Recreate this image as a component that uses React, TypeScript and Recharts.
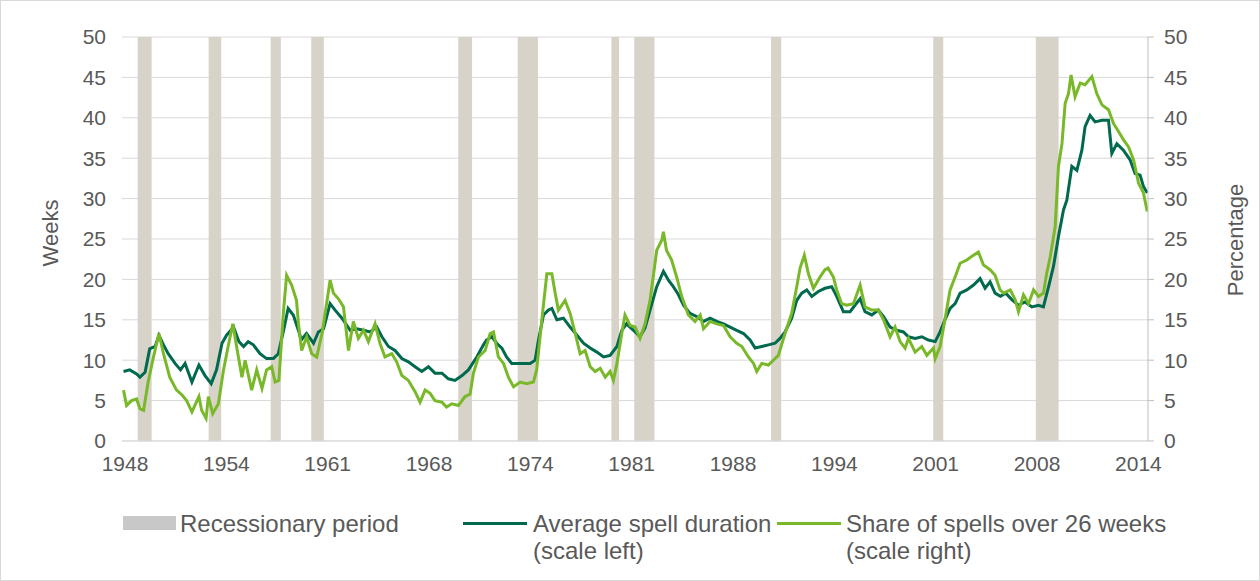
import {
  ComposedChart,
  Line,
  XAxis,
  YAxis,
  CartesianGrid,
  ReferenceArea,
} from "recharts";

// Average spell duration, weeks (left scale)
const durationYears = [
  1947.9, 1948.31, 1948.76, 1948.98, 1949.32, 1949.62, 1949.98, 1950.23, 1950.53, 1950.84,
  1951.29, 1951.65, 1951.95, 1952.4, 1952.86, 1953.26, 1953.67, 1954.02, 1954.38, 1954.68,
  1955.14, 1955.49, 1955.8, 1956.1, 1956.44, 1956.88, 1957.31, 1957.76, 1958.08, 1958.43,
  1958.73, 1959.07, 1959.44, 1959.59, 1959.94, 1960.4, 1960.72, 1961.06, 1961.49, 1961.82,
  1962.27, 1962.81, 1963.24, 1963.69, 1964.12, 1964.56, 1964.9, 1965.33, 1965.76, 1966.21,
  1966.64, 1967.08, 1967.52, 1967.96, 1968.39, 1968.85, 1969.27, 1969.71, 1970.17, 1970.59,
  1971.14, 1971.58, 1971.78, 1972.13, 1972.45, 1972.79, 1973.1, 1973.44, 1973.77, 1974.21,
  1974.65, 1974.98, 1975.2, 1975.53, 1975.85, 1976.08, 1976.41, 1976.84, 1977.28, 1977.73,
  1978.16, 1978.6, 1979.04, 1979.48, 1979.91, 1980.36, 1980.68, 1980.99, 1981.45, 1981.88,
  1982.21, 1982.54, 1982.98, 1983.42, 1983.75, 1984.07, 1984.41, 1984.74, 1985.17, 1985.61,
  1986.06, 1986.49, 1986.93, 1987.37, 1987.81, 1988.24, 1988.69, 1989.12, 1989.45, 1989.89,
  1990.33, 1990.76, 1991.09, 1991.42, 1991.86, 1992.19, 1992.52, 1992.85, 1993.18, 1993.61,
  1994.05, 1994.49, 1994.82, 1995.26, 1995.7, 1996.02, 1996.36, 1996.68, 1997.13, 1997.56,
  1997.9, 1998.33, 1998.77, 1999.21, 1999.54, 1999.98, 2000.42, 2000.85, 2001.3, 2001.62,
  2001.94, 2002.28, 2002.61, 2002.94, 2003.38, 2003.82, 2004.25, 2004.58, 2004.91, 2005.24,
  2005.59, 2005.94, 2006.34, 2006.78, 2007.21, 2007.66, 2008.1, 2008.42, 2008.76, 2009.08,
  2009.41, 2009.74, 2009.96, 2010.29, 2010.62, 2010.95, 2011.16, 2011.49, 2011.82, 2012.27,
  2012.7, 2012.92, 2013.25, 2013.68, 2014.12, 2014.45, 2014.78, 2015.0, 2015.25,
];
const durationWeeks = [
  8.6, 8.8, 8.3, 7.9, 8.5, 11.4, 11.7, 13.1, 11.9, 10.8,
  9.6, 8.8, 9.6, 7.3, 9.4, 8.1, 7.1, 8.8, 12.1, 13.1,
  14.1, 12.3, 11.7, 12.3, 11.9, 10.8, 10.2, 10.2, 10.8, 13.7,
  16.4, 15.6, 13.5, 12.5, 13.3, 12.1, 13.5, 13.9, 17.0, 16.2,
  15.2, 13.7, 13.9, 13.7, 13.5, 14.1, 12.9, 11.7, 11.2, 10.2,
  9.8, 9.2, 8.6, 9.2, 8.4, 8.4, 7.7, 7.5, 8.1, 8.8,
  10.4, 11.9, 12.5, 12.9, 12.1, 11.5, 10.4, 9.6, 9.6, 9.6,
  9.6, 10.0, 12.5, 15.6, 16.2, 16.4, 15.0, 15.2, 14.1, 13.1,
  12.1, 11.5, 11.0, 10.4, 10.6, 11.7, 13.7, 14.5, 13.7, 12.9,
  14.0, 16.2, 19.1, 21.0, 19.9, 19.1, 18.1, 16.8, 15.8, 15.4,
  14.8, 15.2, 14.8, 14.5, 14.1, 13.7, 13.3, 12.5, 11.5, 11.7,
  11.9, 12.1, 12.7, 13.5, 15.2, 17.4, 18.3, 18.7, 17.9, 18.5,
  18.9, 19.1, 17.9, 16.0, 16.0, 16.8, 17.6, 16.0, 15.6, 16.2,
  15.4, 14.1, 13.7, 13.5, 12.9, 12.7, 12.9, 12.5, 12.3, 13.5,
  15.0, 16.4, 17.0, 18.3, 18.7, 19.3, 20.1, 18.9, 19.7, 18.3,
  17.9, 18.3, 17.5, 16.8, 17.2, 16.6, 16.8, 16.6, 19.1, 21.6,
  25.3, 28.6, 29.8, 34.0, 33.5, 36.0, 38.9, 40.3, 39.5, 39.7,
  39.7, 35.6, 36.8, 36.0, 34.8, 33.1, 32.9, 31.5, 30.7,
];

// Share of spells over 26 weeks, % (right scale)
const shareYears = [
  1947.9, 1948.1, 1948.43, 1948.76, 1948.98, 1949.22, 1949.52, 1949.87, 1950.23, 1950.53,
  1950.94, 1951.39, 1951.75, 1952.05, 1952.4, 1952.86, 1953.04, 1953.33, 1953.48, 1953.77,
  1954.14, 1954.48, 1954.78, 1955.09, 1955.34, 1955.69, 1955.9, 1956.33, 1956.66, 1957.01,
  1957.31, 1957.65, 1957.87, 1958.12, 1958.43, 1958.63, 1958.96, 1959.28, 1959.41, 1959.62,
  1959.95, 1960.28, 1960.61, 1960.96, 1961.26, 1961.49, 1961.71, 1962.04, 1962.37, 1962.7,
  1963.02, 1963.35, 1963.69, 1964.01, 1964.45, 1964.77, 1965.1, 1965.55, 1965.87, 1966.21,
  1966.64, 1967.08, 1967.41, 1967.74, 1968.07, 1968.39, 1968.85, 1969.15, 1969.5, 1969.93,
  1970.37, 1970.7, 1970.92, 1971.25, 1971.69, 1972.02, 1972.24, 1972.56, 1972.9, 1973.22,
  1973.56, 1973.99, 1974.42, 1974.87, 1975.08, 1975.42, 1975.75, 1976.08, 1976.3, 1976.51,
  1976.95, 1977.28, 1977.62, 1977.94, 1978.27, 1978.6, 1978.93, 1979.26, 1979.59, 1979.91,
  1980.13, 1980.36, 1980.68, 1980.89, 1981.23, 1981.56, 1981.88, 1982.21, 1982.54, 1982.98,
  1983.32, 1983.42, 1983.62, 1983.96, 1984.29, 1984.62, 1985.06, 1985.5, 1985.84, 1986.06,
  1986.49, 1986.93, 1987.37, 1987.81, 1988.24, 1988.58, 1989.01, 1989.35, 1989.56, 1989.89,
  1990.33, 1990.65, 1990.98, 1991.42, 1991.86, 1992.19, 1992.41, 1992.69, 1992.96, 1993.29,
  1993.72, 1994.05, 1994.25, 1994.6, 1994.82, 1995.15, 1995.48, 1995.92, 1996.36, 1996.68,
  1997.13, 1997.56, 1997.9, 1998.33, 1998.66, 1998.99, 1999.32, 1999.54, 1999.98, 2000.42,
  2000.75, 2001.19, 2001.3, 2001.62, 2001.94, 2002.28, 2002.61, 2002.94, 2003.38, 2003.82,
  2004.14, 2004.47, 2004.91, 2005.24, 2005.57, 2005.79, 2006.24, 2006.56, 2006.78, 2007.11,
  2007.44, 2007.77, 2008.1, 2008.42, 2008.64, 2008.87, 2009.19, 2009.41, 2009.64, 2009.85,
  2010.07, 2010.24, 2010.5, 2010.84, 2011.16, 2011.61, 2011.93, 2012.27, 2012.7, 2013.03,
  2013.36, 2013.68, 2014.02, 2014.35, 2014.68, 2015.0, 2015.25,
];
const sharePct = [
  6.3, 4.4, 5.0, 5.2, 4.0, 3.8, 7.3, 10.4, 13.3, 10.8,
  7.9, 6.3, 5.7, 5.0, 3.6, 5.5, 3.8, 2.8, 5.5, 3.4,
  4.6, 8.8, 11.7, 14.5, 11.7, 7.9, 10.0, 6.3, 8.8, 6.5,
  8.8, 9.2, 7.3, 7.5, 16.2, 20.5, 19.3, 17.4, 14.5, 11.2,
  12.9, 10.8, 10.4, 13.3, 17.0, 19.9, 18.3, 17.6, 16.6, 11.2,
  14.8, 12.7, 13.7, 12.3, 14.5, 12.1, 10.4, 10.8, 9.8, 8.1,
  7.5, 6.1, 4.8, 6.3, 5.9, 5.0, 4.8, 4.2, 4.6, 4.4,
  5.5, 5.8, 8.4, 10.4, 11.2, 13.3, 13.5, 10.4, 9.6, 7.9,
  6.7, 7.3, 7.1, 7.3, 8.8, 15.0, 20.7, 20.7, 18.3, 16.2,
  17.4, 15.8, 13.3, 10.8, 11.2, 9.2, 8.6, 9.0, 7.9, 8.6,
  7.5, 9.6, 13.3, 15.6, 14.3, 14.1, 12.7, 14.5, 17.4, 23.6,
  24.9, 25.9, 23.6, 22.4, 20.3, 17.9, 15.6, 14.8, 15.6, 13.9,
  14.8, 14.5, 14.3, 12.9, 12.1, 11.7, 10.4, 9.6, 8.6, 9.6,
  9.4, 10.0, 10.6, 13.3, 15.8, 19.1, 21.4, 23.0, 20.7, 18.9,
  20.3, 21.2, 21.4, 20.3, 18.7, 17.0, 16.8, 17.0, 19.3, 16.6,
  16.2, 16.2, 15.0, 12.9, 14.1, 12.3, 11.5, 12.7, 11.0, 11.7,
  10.6, 11.5, 10.2, 11.7, 15.0, 18.7, 20.3, 22.0, 22.4, 23.0,
  23.4, 21.8, 21.2, 20.5, 18.7, 18.3, 18.7, 17.5, 16.0, 18.1,
  17.0, 18.7, 17.9, 18.3, 20.8, 22.8, 26.5, 34.0, 36.8, 41.8,
  43.0, 45.3, 42.6, 44.3, 44.1, 45.1, 43.0, 41.6, 41.0, 39.3,
  38.3, 37.3, 36.4, 34.8, 31.9, 30.7, 28.4,
];

// NBER recessions (decimal years)
const recessionStart = [1948.83, 1953.5, 1957.58, 1960.25, 1969.92, 1973.83, 1980.0, 1981.5, 1990.5, 2001.17, 2007.92];
const recessionEnd = [1949.75, 1954.33, 1958.25, 1961.08, 1970.83, 1975.17, 1980.5, 1982.83, 1991.17, 2001.83, 2009.42];

const xTicks = [1948, 1954.67, 1961.33, 1968, 1974.67, 1981.33, 1988, 1994.67, 2001.33, 2008, 2014.67];
const xTickLabels = ["1948", "1954", "1961", "1968", "1974", "1981", "1988", "1994", "2001", "2008", "2014"];
const yTicks = [0, 5, 10, 15, 20, 25, 30, 35, 40, 45, 50];

const durationData = durationYears.map((year, i) => ({ year, weeks: durationWeeks[i] }));
const shareData = shareYears.map((year, i) => ({ year, pct: sharePct[i] }));

const TEXT = "#595959";
const DARK = "#00694e";
const LIGHT = "#79b829";
const FONT = '"Liberation Sans", Arial, sans-serif';

const tickStyle = { fill: TEXT, fontSize: 21, fontFamily: FONT };

const App = () => {
  return (
    <div
      style={{
        position: "absolute",
        left: 0,
        top: 0,
        width: 1260,
        height: 581,
        boxSizing: "border-box",
        border: "1px solid #d9d9d9",
        background: "#fff",
        fontFamily: FONT,
        color: TEXT,
      }}
    >
      <ComposedChart
        width={1258}
        height={579}
        margin={{ top: 36, right: 51, bottom: 99, left: 21 }}
      >
        <CartesianGrid yAxisId="left" vertical={false} stroke="#d9d9d9" />
        <XAxis
          type="number"
          dataKey="year"
          domain={[1947.8, 2015.3]}
          allowDataOverflow
          ticks={xTicks}
          interval={0}
          tickFormatter={(v) => xTickLabels[xTicks.indexOf(v)]}
          axisLine={{ stroke: "#d9d9d9" }}
          tickLine={false}
          tick={tickStyle}
          tickMargin={9}
          height={40}
        />
        <YAxis
          yAxisId="left"
          domain={[0, 50]}
          ticks={yTicks}
          interval={0}
          axisLine={false}
          tickLine={false}
          tick={tickStyle}
          tickMargin={10}
          width={100}
        />
        <YAxis
          yAxisId="right"
          orientation="right"
          domain={[0, 50]}
          ticks={yTicks}
          interval={0}
          axisLine={{ stroke: "#bfbfbf" }}
          tickLine={{ stroke: "#bfbfbf" }}
          tickSize={6}
          tick={tickStyle}
          tickMargin={10}
          width={60}
        />
        {recessionStart.map((start, i) => (
          <ReferenceArea
            key={`rec-${i}`}
            yAxisId="left"
            x1={start}
            x2={recessionEnd[i]}
            fill="#d8d3c8"
            fillOpacity={1}
            stroke="none"
          />
        ))}
        <Line
          yAxisId="left"
          data={durationData}
          dataKey="weeks"
          type="linear"
          stroke={DARK}
          strokeWidth={3}
          dot={false}
          isAnimationActive={false}
        />
        <Line
          yAxisId="right"
          data={shareData}
          dataKey="pct"
          type="linear"
          stroke={LIGHT}
          strokeWidth={3}
          dot={false}
          isAnimationActive={false}
        />
      </ComposedChart>

      {/* axis titles */}
      <div
        style={{
          position: "absolute",
          left: 50,
          top: 232,
          fontSize: 22,
          transform: "translate(-50%, -50%) rotate(-90deg)",
          whiteSpace: "nowrap",
        }}
      >
        Weeks
      </div>
      <div
        style={{
          position: "absolute",
          left: 1235,
          top: 239,
          fontSize: 22,
          transform: "translate(-50%, -50%) rotate(-90deg)",
          whiteSpace: "nowrap",
        }}
      >
        Percentage
      </div>

      {/* legend */}
      <div style={{ position: "absolute", left: 122, top: 515, width: 53, height: 14, background: "#c8c8c8" }} />
      <div style={{ position: "absolute", left: 179, top: 509, fontSize: 24, lineHeight: "27px" }}>
        Recessionary period
      </div>
      <div style={{ position: "absolute", left: 462, top: 521, width: 64, height: 3, background: DARK }} />
      <div style={{ position: "absolute", left: 532, top: 509, fontSize: 24, lineHeight: "27px" }}>
        Average spell duration
        <br />
        (scale left)
      </div>
      <div style={{ position: "absolute", left: 776, top: 521, width: 64, height: 3, background: LIGHT }} />
      <div style={{ position: "absolute", left: 845, top: 509, fontSize: 24, lineHeight: "27px" }}>
        Share of spells over 26 weeks
        <br />
        (scale right)
      </div>
    </div>
  );
};

export default App;
